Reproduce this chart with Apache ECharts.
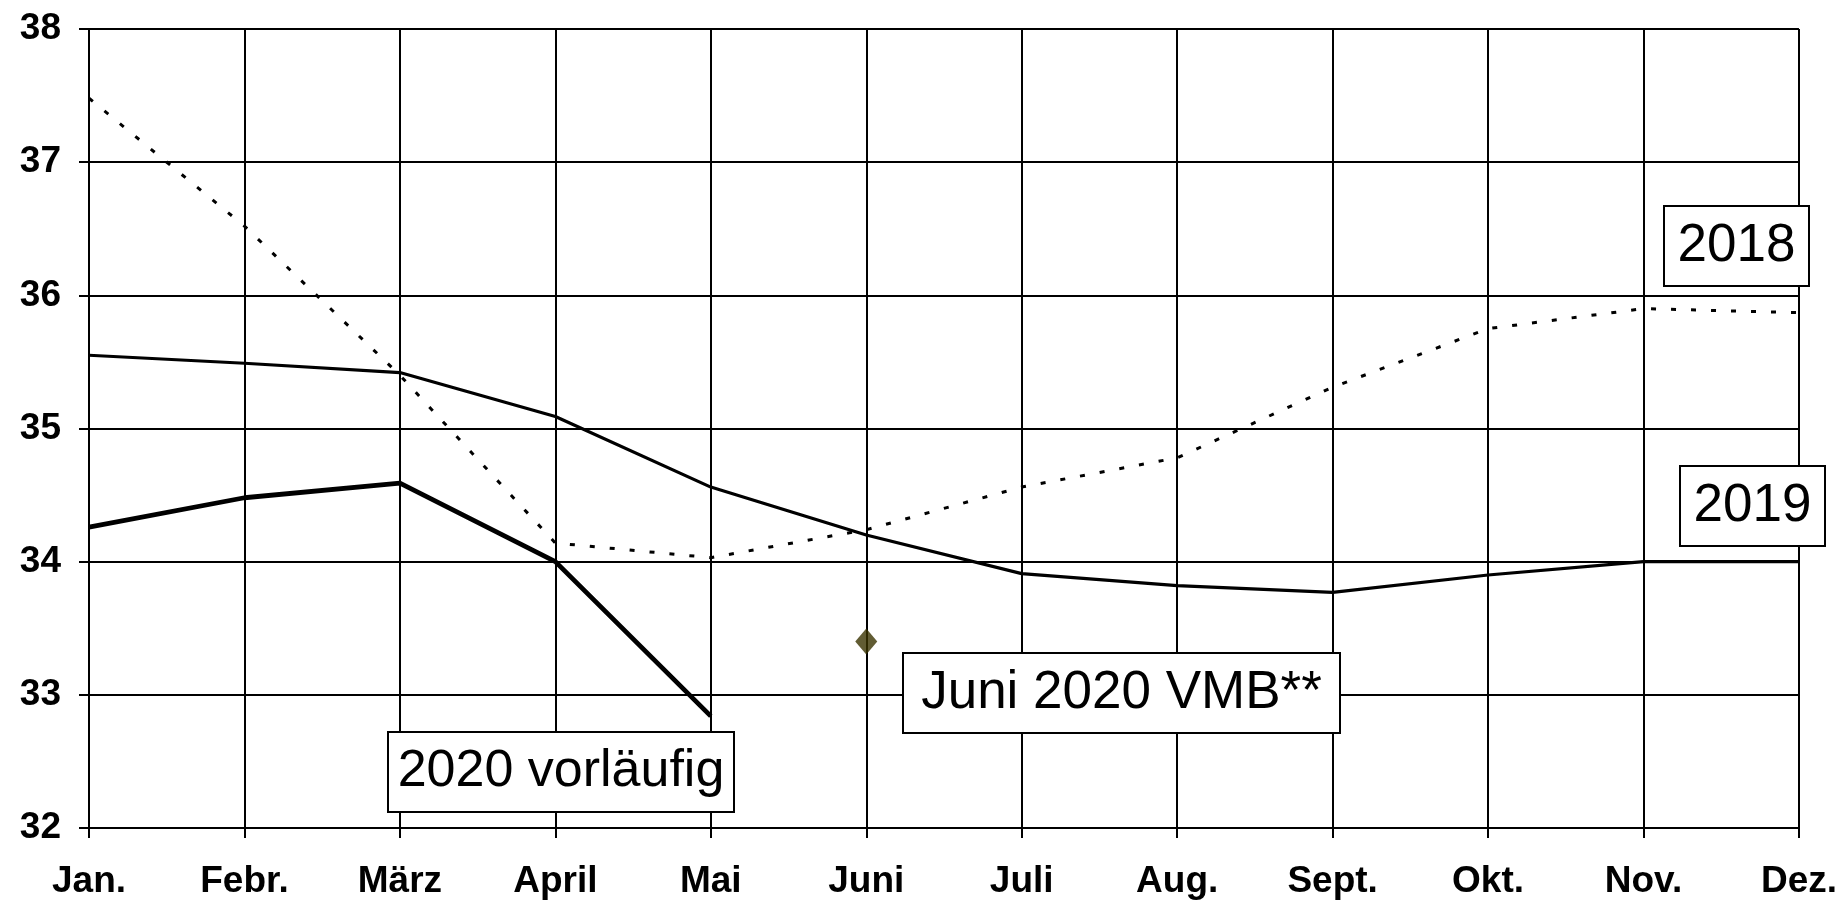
<!DOCTYPE html>
<html>
<head>
<meta charset="utf-8">
<script src="https://cdn.jsdelivr.net/npm/echarts@6/dist/echarts.min.js"></script>
<style>
html,body{margin:0;padding:0;background:#fff;}
#chart{width:1840px;height:901px;}
</style>
</head>
<body>
<div id="chart"></div>
<script>
const months = ['Jan.', 'Febr.', 'März', 'April', 'Mai', 'Juni', 'Juli', 'Aug.', 'Sept.', 'Okt.', 'Nov.', 'Dez.'];
const values2018 = [37.48, 36.52, 35.40, 34.14, 34.03, 34.24, 34.56, 34.78, 35.31, 35.75, 35.90, 35.87];
const values2019 = [35.55, 35.49, 35.42, 35.09, 34.56, 34.20, 33.91, 33.82, 33.77, 33.90, 34.00, 34.00];
const values2020 = [34.26, 34.48, 34.59, 34.00, 32.84, null, null, null, null, null, null, null];
const vmbMonth = 'Juni';
const vmbValue = 33.40;
const yTicks = { min: 32, max: 38, interval: 1 };
const labels = { y2018: '2018', y2019: '2019', y2020: '2020 vorläufig', vmb: 'Juni 2020 VMB**' };

const FONT = "'Liberation Sans', Arial, sans-serif";
const chart = echarts.init(document.getElementById('chart'), null, { renderer: 'canvas' });

function boxLabel(x, y, w, h, text, fs) {
  return [
    { type: 'rect', z: 100, shape: { x: x, y: y, width: w, height: h },
      style: { fill: '#ffffff', stroke: '#000', lineWidth: 2 } },
    { type: 'text', z: 101, x: x + w / 2, y: y + h / 2,
      style: { text: text, fill: '#000', font: fs + 'px ' + FONT, align: 'center', verticalAlign: 'middle' } }
  ];
}

chart.setOption({
  animation: false,
  backgroundColor: '#fff',
  grid: { left: 89, right: 39, top: 29, bottom: 73, containLabel: false },
  xAxis: {
    type: 'category',
    data: months,
    boundaryGap: false,
    axisLine: { show: true, lineStyle: { color: '#000', width: 2 } },
    axisTick: { show: true, length: 10, lineStyle: { color: '#000', width: 2 } },
    splitLine: { show: true, lineStyle: { color: '#000', width: 2 } },
    axisLabel: { color: '#000', fontFamily: FONT, fontSize: 37, fontWeight: 'bold', margin: 35, interval: 0 }
  },
  yAxis: {
    type: 'value',
    min: yTicks.min, max: yTicks.max, interval: yTicks.interval,
    axisLine: { show: true, lineStyle: { color: '#000', width: 2 } },
    axisTick: { show: true, length: 10, lineStyle: { color: '#000', width: 2 } },
    splitLine: { show: true, lineStyle: { color: '#000', width: 2 } },
    axisLabel: { color: '#000', fontFamily: FONT, fontSize: 37, fontWeight: 'bold', margin: 28 }
  },
  series: [
    { name: '2018', type: 'line', data: values2018, symbol: 'none', z: 5,
      lineStyle: { color: '#000', width: 3, type: [5, 15] } },
    { name: '2019', type: 'line', data: values2019, symbol: 'none', z: 6,
      lineStyle: { color: '#000', width: 3.2 } },
    { name: '2020', type: 'line', data: values2020, symbol: 'none', z: 7,
      lineStyle: { color: '#000', width: 4.8 } },
    { name: 'Juni 2020 VMB', type: 'scatter', data: [[vmbMonth, vmbValue]], z: 8,
      symbol: 'diamond', symbolSize: [22, 26], itemStyle: { color: '#3a3300' } }
  ],
  graphic: [].concat(
    boxLabel(1664, 206, 145, 80, labels.y2018, 53),
    boxLabel(1680, 466, 145, 80, labels.y2019, 53),
    boxLabel(388, 732, 346, 80, labels.y2020, 52),
    boxLabel(903, 653, 437, 80, labels.vmb, 53)
  )
});
</script>
</body>
</html>
